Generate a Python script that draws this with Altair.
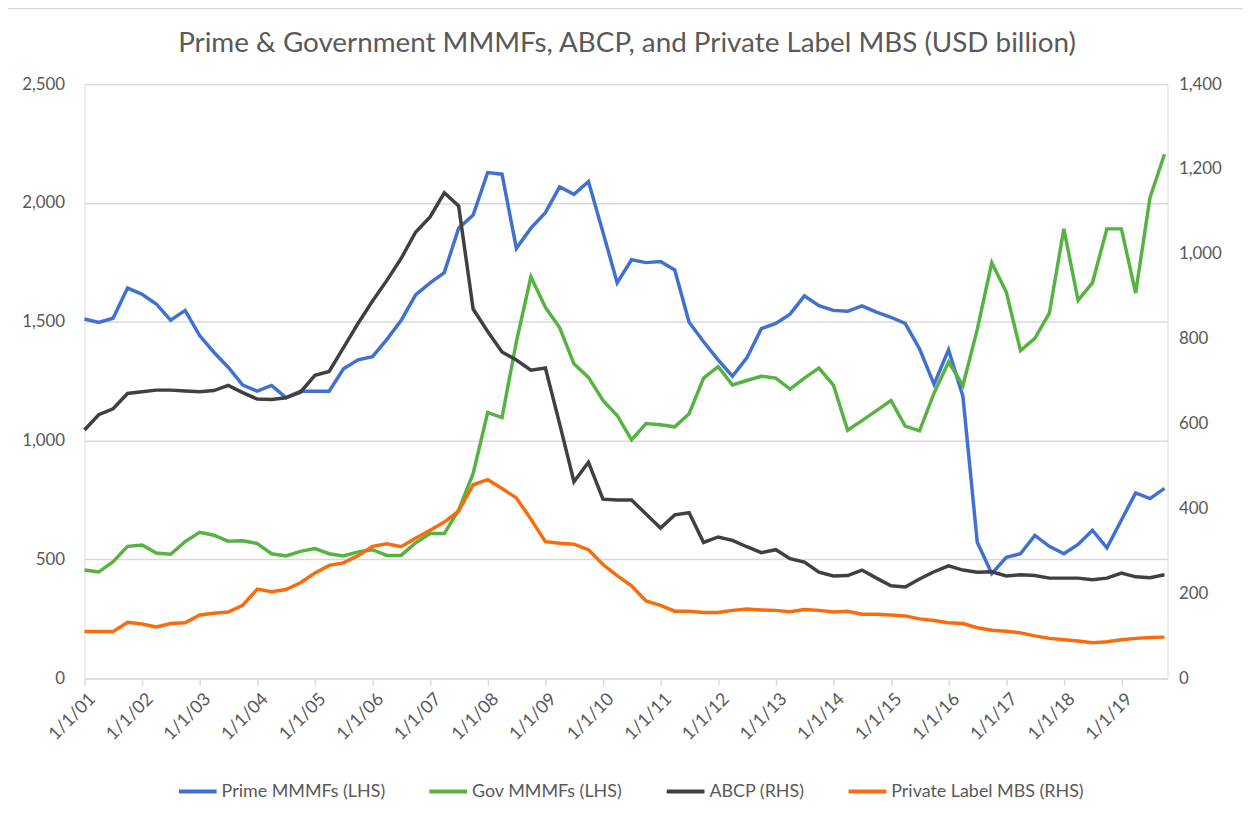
import altair as alt
import pandas as pd

# Quarterly observation dates 2001Q1 .. 2019Q4
years = list(range(2001, 2020))
quarter_months = [1, 4, 7, 10]
dates = [f"{y}/{m:02d}/01" for y in years for m in quarter_months]

title_text = "Prime & Government  MMMFs, ABCP, and Private Label MBS (USD billion)"
series_names = ["Prime MMMFs (LHS)", "Gov MMMFs (LHS)", "ABCP (RHS)", "Private Label MBS (RHS)"]
series_colors = ["#4070D0", "#56B341", "#404040", "#FA6B0C"]

prime = [1512, 1497, 1515, 1642,
         1616, 1575, 1507, 1548,
         1442, 1372, 1309, 1234,
         1208, 1232, 1181, 1208,
         1208, 1208, 1302, 1340,
         1353, 1425, 1505, 1613,
         1664, 1707, 1894, 1949,
         2128, 2121, 1809, 1894,
         1959, 2068, 2036, 2090,
         1877, 1664, 1761, 1749,
         1754, 1718, 1498, 1416,
         1340, 1271, 1348, 1471,
         1493, 1532, 1609, 1568,
         1548, 1544, 1567, 1541,
         1519, 1493, 1386, 1237,
         1382, 1186, 572, 440,
         509, 524, 601, 555,
         524, 563, 623, 549,
         666, 780, 756, 799]

gov = [456, 447, 491, 555,
       561, 527, 522, 575,
       614, 602, 577, 579,
       567, 524, 515, 534,
       546, 524, 515, 532,
       541, 517, 517, 570,
       609, 609, 708, 862,
       1118, 1097, 1416, 1689,
       1561, 1476, 1323, 1266,
       1169, 1106, 1003, 1072,
       1067, 1058, 1113, 1263,
       1311, 1234, 1253, 1271,
       1263, 1217, 1263, 1305,
       1234, 1044, 1084, 1126,
       1169, 1061, 1041, 1200,
       1331, 1232, 1468, 1749,
       1625, 1379, 1430, 1536,
       1891, 1590, 1664, 1891,
       1891, 1621, 2022, 2205]

abcp = [585, 621, 635, 671,
        675, 679, 679, 677,
        675, 678, 690, 673,
        658, 657, 661, 674,
        714, 723, 779, 836,
        889, 937, 989, 1051,
        1087, 1144, 1113, 870,
        817, 769, 750, 726,
        731, 600, 463, 509,
        422, 420, 420, 387,
        354, 385, 390, 320,
        333, 325, 310, 296,
        303, 282, 274, 250,
        241, 242, 255, 236,
        218, 215, 234, 251,
        265, 255, 250, 251,
        241, 244, 242, 236,
        236, 236, 232, 236,
        248, 239, 237, 244]

mbs = [110, 110, 110, 132,
       128, 121, 129, 131,
       149, 153, 156, 172,
       210, 204, 209, 225,
       248, 266, 272, 289,
       311, 317, 310, 330,
       349, 368, 394, 456,
       468, 447, 425, 375,
       322, 318, 316, 303,
       268, 242, 218, 182,
       172, 158, 158, 155,
       155, 160, 163, 161,
       160, 157, 162, 160,
       156, 158, 151, 151,
       149, 147, 140, 136,
       131, 129, 119, 113,
       111, 107, 100, 94,
       91, 88, 84, 86,
       91, 94, 96, 97]

left_ticks = [0, 500, 1000, 1500, 2000, 2500]
right_ticks = [0, 200, 400, 600, 800, 1000, 1200, 1400]

df_left = pd.DataFrame({
    "date": dates * 2,
    "value": prime + gov,
    "series": [series_names[0]] * len(dates) + [series_names[1]] * len(dates),
})
df_right = pd.DataFrame({
    "date": dates * 2,
    "value": abcp + mbs,
    "series": [series_names[2]] * len(dates) + [series_names[3]] * len(dates),
})

FONT = "Lato"
GREY = "#595959"
LIGHT = "#d9d9d9"

x_enc = alt.X(
    "date:T",
    title=None,
    scale=alt.Scale(domain=[alt.DateTime(year=2001, month=1, date=1),
                            alt.DateTime(year=2019, month=10, date=20)]),
    axis=alt.Axis(
        values=[alt.DateTime(year=y, month=1, date=1) for y in years],
        format="%-m/%-d/%y",
        labelAngle=-45,
        labelAlign="right",
        labelBaseline="middle",
        labelOffset=8,
        labelPadding=11,
        labelFont=FONT,
        labelFontSize=18,
        labelColor=GREY,
        labelOverlap=False,
        domainColor=LIGHT,
        domainWidth=1.5,
        tickColor=LIGHT,
        tickSize=7,
        tickWidth=1.5,
        grid=False,
    ),
)

color_enc = alt.Color(
    "series:N",
    scale=alt.Scale(domain=series_names, range=series_colors),
    legend=alt.Legend(
        title=None,
        orient="none",
        direction="horizontal",
        legendX=93,
        legendY=691,
        labelFont=FONT,
        labelFontSize=18,
        labelColor=GREY,
        labelLimit=0,
        symbolType="stroke",
        symbolStrokeWidth=4,
        symbolSize=1444,
        columnPadding=36,
        labelOffset=3,
    ),
)

left = alt.Chart(df_left).mark_line(strokeWidth=3.5).encode(
    x=x_enc,
    y=alt.Y(
        "value:Q",
        title=None,
        scale=alt.Scale(domain=[0, 2500], nice=False, zero=True),
        axis=alt.Axis(
            orient="left",
            values=left_ticks,
            format=",d",
            domain=False,
            ticks=False,
            labelPadding=20,
            labelFont=FONT,
            labelFontSize=17,
            labelColor=GREY,
            grid=True,
            gridColor=LIGHT,
            gridWidth=1.5,
        ),
    ),
    color=color_enc,
)

right = alt.Chart(df_right).mark_line(strokeWidth=3.5).encode(
    x=x_enc,
    y=alt.Y(
        "value:Q",
        title=None,
        scale=alt.Scale(domain=[0, 1400], nice=False, zero=True),
        axis=alt.Axis(
            orient="right",
            values=right_ticks,
            format=",d",
            domain=False,
            ticks=False,
            labelPadding=11,
            labelFont=FONT,
            labelFontSize=17,
            labelColor=GREY,
            grid=False,
        ),
    ),
    color=color_enc,
)

frame = alt.Chart(pd.DataFrame({"f": [0]})).mark_rect(
    fill="transparent", stroke=LIGHT, strokeWidth=1.5
).encode(
    x=alt.value(-78), x2=alt.value(1300), y=alt.value(-76), y2=alt.value(900)
)

title = alt.Chart(pd.DataFrame({"t": [title_text]})).mark_text(
    font=FONT, fontSize=28, color=GREY, align="center", baseline="middle"
).encode(
    text="t:N", x=alt.value(546), y=alt.value(-40)
)

chart = alt.layer(frame, title, left, right).resolve_scale(y="independent").properties(
    width=1090,
    height=598,
    autosize=alt.AutoSizeParams(type="none"),
    padding={"left": 77, "top": 74, "right": 76, "bottom": 138},
).configure_view(stroke=None).configure(background="white")

chart.save("out.html", embed_options={"renderer": "svg", "actions": False})
